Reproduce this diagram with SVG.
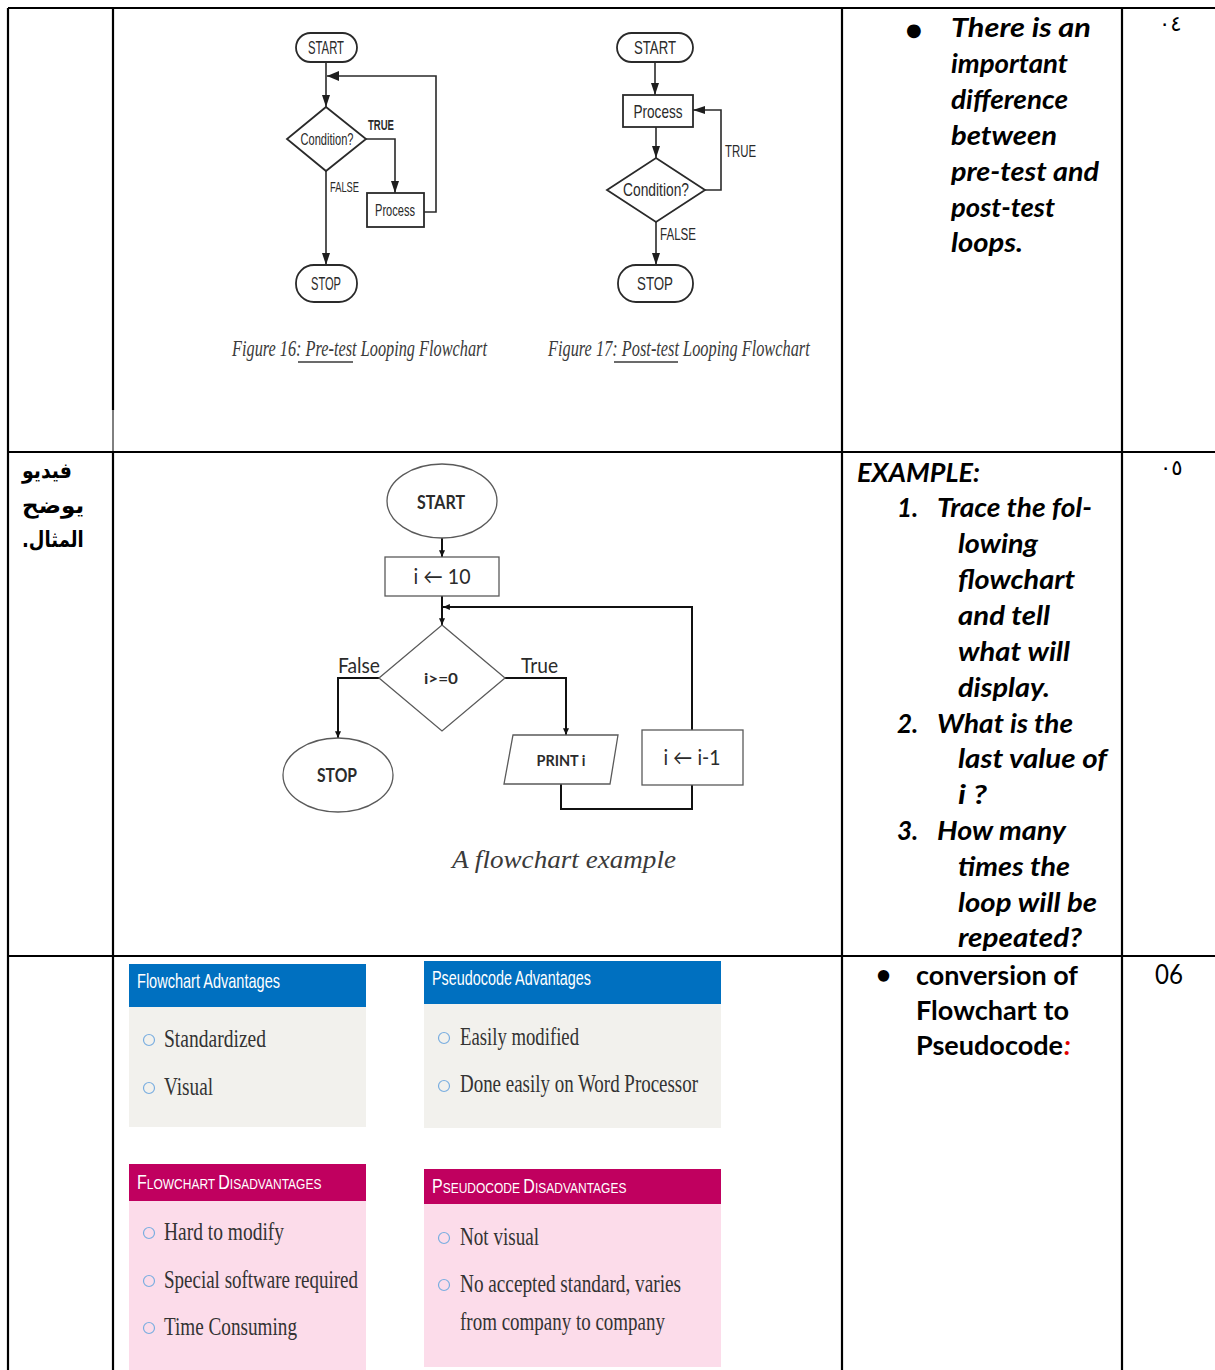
<svg xmlns="http://www.w3.org/2000/svg" width="1215" height="1370" viewBox="0 0 1215 1370">
<defs>
<style>
.grid{stroke:#000;stroke-width:2.2;fill:none}
.fc{fill:#fff;stroke:#2a2a2a;stroke-width:1.8}
.fcl{fill:none;stroke:#2a2a2a;stroke-width:1.6}
.nar{font-family:"Liberation Sans Narrow","Liberation Sans",sans-serif;fill:#2a2a2a}
.cap{font-family:"Liberation Serif",serif;font-style:italic;fill:#3a3a3a}
.ex{fill:#fff;stroke:#5a5a5a;stroke-width:1.3}
.exl{fill:none;stroke:#111;stroke-width:2}
.cal{font-family:Lato,"Open Sans",sans-serif;fill:#2b2b2b}
.note{font-family:Lato,"Open Sans",sans-serif;font-weight:bold;fill:#000}
.hdr{font-family:"Liberation Sans Narrow","Liberation Sans",sans-serif;fill:#fff}
.itm{font-family:"Liberation Serif",serif;fill:#333}
.dot{fill:none;stroke:#7aaee0;stroke-width:1.2}
.ar{font-family:"DejaVu Sans","Noto Sans",sans-serif;font-weight:bold;font-size:22px;fill:#000}
</style>
<marker id="ah" viewBox="0 0 12 8" refX="12" refY="4" markerWidth="12" markerHeight="8" markerUnits="userSpaceOnUse" orient="auto">
<path d="M0,0 L12,4 L0,8 z" fill="#1e1e1e"/>
</marker>
<marker id="as" viewBox="0 0 8 7" refX="8" refY="3.5" markerWidth="7" markerHeight="6" markerUnits="userSpaceOnUse" orient="auto">
<path d="M0,0 L8,3.5 L0,7 z" fill="#111"/>
</marker>
</defs>
<rect width="1215" height="1370" fill="#fff"/>

<!-- table rules -->
<g id="table">
<path class="grid" d="M8,8 H1215 M8,452 H1215 M8,956 H1215 M8,8 V1370 M113,8 V410 M113,452 V1370 M842,8 V1370 M1122,8 V1370"/>
<path d="M113,410 V452" stroke="#000" stroke-width="1"/>
</g>

<!-- connectors -->
<g id="connectors">
<!-- pre-test loop -->
<path class="fcl" d="M326,62 V107" marker-end="url(#ah)"/>
<path class="fcl" d="M424,212 H436 V76 H327"/>
<path d="M339,71 L327,76 L339,81 z" fill="#1e1e1e"/>
<path class="fcl" d="M366,139 H395 V193" stroke-width="2.2" marker-end="url(#ah)"/>
<path class="fcl" d="M326,171 V265" marker-end="url(#ah)"/>
<!-- post-test loop -->
<path class="fcl" d="M655,62 V95" marker-end="url(#ah)"/>
<path class="fcl" d="M656,127 V158" marker-end="url(#ah)"/>
<path class="fcl" d="M705,190 H721 V110 H693" marker-end="url(#ah)"/>
<path class="fcl" d="M656,222 V265" marker-end="url(#ah)"/>
<!-- example flowchart -->
<path class="exl" d="M442,538 V557" marker-end="url(#as)"/>
<path class="exl" d="M442,596 V625" marker-end="url(#as)"/>
<path class="exl" d="M692,730 V607 H443" marker-end="url(#as)"/>
<path class="exl" d="M379,678 H338 V738" marker-end="url(#as)"/>
<path class="exl" d="M505,678 H566 V735" marker-end="url(#as)"/>
<path class="exl" d="M561,784 V809 H692 V785"/>
</g>

<!-- pre-test flowchart -->
<g id="pre-start"><rect class="fc" x="296" y="33" width="61" height="29" rx="14.5"/><text class="nar" x="326" y="54" font-size="18" text-anchor="middle" textLength="36" lengthAdjust="spacingAndGlyphs">START</text></g>
<g id="pre-cond"><polygon class="fc" points="326,107 366,139 326,171 287,139"/><text class="nar" x="327" y="145" font-size="17" text-anchor="middle" textLength="53" lengthAdjust="spacingAndGlyphs">Condition?</text></g>
<g id="pre-process"><rect class="fc" x="367" y="193" width="57" height="34" stroke-width="2"/><text class="nar" x="395" y="216" font-size="17" text-anchor="middle" textLength="40" lengthAdjust="spacingAndGlyphs">Process</text></g>
<g id="pre-stop"><rect class="fc" x="296" y="265" width="61" height="37" rx="18"/><text class="nar" x="326" y="290" font-size="18" text-anchor="middle" textLength="30" lengthAdjust="spacingAndGlyphs">STOP</text></g>
<text class="nar" x="368" y="130" font-size="14" font-weight="bold" textLength="26" lengthAdjust="spacingAndGlyphs">TRUE</text>
<text class="nar" x="330" y="192" font-size="14" textLength="29" lengthAdjust="spacingAndGlyphs">FALSE</text>
<text class="cap" font-size="24" transform="translate(232,356) scale(0.75,1)" textLength="340" lengthAdjust="spacingAndGlyphs">Figure 16: Pre-test Looping Flowchart</text>
<path d="M298,362 H353" stroke="#3a3a3a" stroke-width="1.4"/>

<!-- post-test flowchart -->
<g id="post-start"><rect class="fc" x="617" y="33" width="76" height="29" rx="14.5"/><text class="nar" x="655" y="54" font-size="19" text-anchor="middle" textLength="42" lengthAdjust="spacingAndGlyphs">START</text></g>
<g id="post-process"><rect class="fc" x="623" y="95" width="70" height="32"/><text class="nar" x="658" y="118" font-size="19" text-anchor="middle" textLength="49" lengthAdjust="spacingAndGlyphs">Process</text></g>
<g id="post-cond"><polygon class="fc" points="656,158 705,190 656,222 607,190"/><text class="nar" x="656" y="196" font-size="18" text-anchor="middle" textLength="66" lengthAdjust="spacingAndGlyphs">Condition?</text></g>
<g id="post-stop"><rect class="fc" x="618" y="265" width="75" height="37" rx="18"/><text class="nar" x="655" y="290" font-size="19" text-anchor="middle" textLength="36" lengthAdjust="spacingAndGlyphs">STOP</text></g>
<text class="nar" x="725" y="157" font-size="16" textLength="31" lengthAdjust="spacingAndGlyphs">TRUE</text>
<text class="nar" x="660" y="240" font-size="16" textLength="36" lengthAdjust="spacingAndGlyphs">FALSE</text>
<text class="cap" font-size="24" transform="translate(548,356) scale(0.75,1)" textLength="349" lengthAdjust="spacingAndGlyphs">Figure 17: Post-test Looping Flowchart</text>
<path d="M614,362 H678" stroke="#3a3a3a" stroke-width="1.4"/>

<!-- example flowchart -->
<g id="ex-start"><ellipse class="ex" cx="442" cy="501" rx="55" ry="37"/><text class="cal" x="441" y="509" font-size="19" font-weight="bold" text-anchor="middle" textLength="48" lengthAdjust="spacingAndGlyphs">START</text></g>
<g id="ex-init"><rect class="ex" x="385" y="557" width="114" height="39"/><text class="cal" x="442" y="584" font-size="21" text-anchor="middle" textLength="57" lengthAdjust="spacingAndGlyphs">i ← 10</text></g>
<g id="ex-cond"><polygon class="ex" points="442,625 505,678 442,731 379,678"/><text class="cal" x="441" y="684" font-size="16" font-weight="bold" text-anchor="middle" textLength="34" lengthAdjust="spacingAndGlyphs">i&gt;=0</text></g>
<g id="ex-stop"><ellipse class="ex" cx="338" cy="775" rx="55" ry="37"/><text class="cal" x="337" y="782" font-size="19" font-weight="bold" text-anchor="middle" textLength="40" lengthAdjust="spacingAndGlyphs">STOP</text></g>
<g id="ex-print"><polygon class="ex" points="513,735 618,735 610,784 504,784"/><text class="cal" x="561" y="766" font-size="16" font-weight="bold" text-anchor="middle" textLength="49" lengthAdjust="spacingAndGlyphs">PRINT i</text></g>
<g id="ex-dec"><rect class="ex" x="642" y="730" width="101" height="55"/><text class="cal" x="692" y="765" font-size="21" text-anchor="middle" textLength="57" lengthAdjust="spacingAndGlyphs">i ← i-1</text></g>
<text class="cal" x="338" y="673" font-size="21" textLength="42" lengthAdjust="spacingAndGlyphs">False</text>
<text class="cal" x="521" y="673" font-size="21" textLength="37" lengthAdjust="spacingAndGlyphs">True</text>
<text class="cap" x="452" y="868" font-size="26" textLength="224" lengthAdjust="spacingAndGlyphs">A flowchart example</text>

<!-- right-hand notes -->
<text x="906" y="36" font-family="'DejaVu Sans',sans-serif" font-size="18" fill="#000">●</text>
<g class="note" font-style="italic" font-size="26">
<text x="951" y="37" textLength="140" lengthAdjust="spacingAndGlyphs">There is an</text>
<text x="951" y="73" textLength="117" lengthAdjust="spacingAndGlyphs">important</text>
<text x="951" y="109" textLength="117" lengthAdjust="spacingAndGlyphs">difference</text>
<text x="951" y="145" textLength="106" lengthAdjust="spacingAndGlyphs">between</text>
<text x="951" y="181" textLength="148" lengthAdjust="spacingAndGlyphs">pre-test and</text>
<text x="951" y="217" textLength="104" lengthAdjust="spacingAndGlyphs">post-test</text>
<text x="951" y="252" textLength="72" lengthAdjust="spacingAndGlyphs">loops.</text>

<text x="857" y="482" textLength="123" lengthAdjust="spacingAndGlyphs">EXAMPLE:</text>
<text x="897" y="517">1.</text><text x="937" y="517" textLength="155" lengthAdjust="spacingAndGlyphs">Trace the fol-</text>
<text x="958" y="553" textLength="80" lengthAdjust="spacingAndGlyphs">lowing</text>
<text x="958" y="589" textLength="117" lengthAdjust="spacingAndGlyphs">flowchart</text>
<text x="958" y="625" textLength="92" lengthAdjust="spacingAndGlyphs">and tell</text>
<text x="958" y="661" textLength="112" lengthAdjust="spacingAndGlyphs">what will</text>
<text x="958" y="697" textLength="92" lengthAdjust="spacingAndGlyphs">display.</text>
<text x="897" y="733">2.</text><text x="937" y="733" textLength="136" lengthAdjust="spacingAndGlyphs">What is the</text>
<text x="958" y="768" textLength="149" lengthAdjust="spacingAndGlyphs">last value of</text>
<text x="958" y="804" textLength="29" lengthAdjust="spacingAndGlyphs">i ?</text>
<text x="897" y="840">3.</text><text x="937" y="840" textLength="129" lengthAdjust="spacingAndGlyphs">How many</text>
<text x="958" y="876" textLength="112" lengthAdjust="spacingAndGlyphs">times the</text>
<text x="958" y="912" textLength="139" lengthAdjust="spacingAndGlyphs">loop will be</text>
<text x="958" y="947" textLength="124" lengthAdjust="spacingAndGlyphs">repeated?</text>
</g>
<g class="note" font-size="26">
<text x="876" y="984">•</text>
<text x="916" y="985" textLength="162" lengthAdjust="spacingAndGlyphs">conversion of</text>
<text x="916" y="1020" textLength="153" lengthAdjust="spacingAndGlyphs">Flowchart to</text>
<text x="916" y="1055" textLength="147" lengthAdjust="spacingAndGlyphs">Pseudocode</text>
<text x="1064" y="1055" fill="#e00000" font-style="italic">:</text>
</g>

<!-- row numbers -->
<text x="1159" y="31" font-family="'DejaVu Sans',sans-serif" font-size="21" fill="#000">٠٤</text>
<text x="1160" y="475" font-family="'DejaVu Sans',sans-serif" font-size="21" fill="#000">٠٥</text>
<text x="1155" y="984" font-family="Lato,'Open Sans',sans-serif" font-size="26" fill="#000" textLength="28" lengthAdjust="spacingAndGlyphs">06</text>

<!-- left column note -->
<text class="ar" direction="rtl" text-anchor="end" transform="translate(22,478) scale(0.86,1)">فيديو</text>
<text class="ar" direction="rtl" text-anchor="end" transform="translate(22,513) scale(1.05,1)">يوضح</text>
<text class="ar" direction="rtl" text-anchor="end" transform="translate(22,547) scale(0.82,1)">المثال.</text>

<!-- comparison panels -->
<g id="fc-adv">
<rect x="129" y="1007" width="237" height="120" fill="#f2f1ed"/>
<rect x="129" y="964" width="237" height="43" fill="#0070c0"/>
<text class="hdr" x="137" y="988" font-size="21" textLength="143" lengthAdjust="spacingAndGlyphs">Flowchart Advantages</text>
<circle class="dot" cx="149" cy="1040" r="5.5"/><text class="itm" x="164" y="1047" font-size="25" textLength="102" lengthAdjust="spacingAndGlyphs">Standardized</text>
<circle class="dot" cx="149" cy="1088" r="5.5"/><text class="itm" x="164" y="1095" font-size="25" textLength="49" lengthAdjust="spacingAndGlyphs">Visual</text>
</g>
<g id="pc-adv">
<rect x="424" y="1004" width="297" height="124" fill="#f2f1ed"/>
<rect x="424" y="961" width="297" height="43" fill="#0070c0"/>
<text class="hdr" x="432" y="985" font-size="21" textLength="159" lengthAdjust="spacingAndGlyphs">Pseudocode Advantages</text>
<circle class="dot" cx="444" cy="1038" r="5.5"/><text class="itm" x="460" y="1045" font-size="25" textLength="119" lengthAdjust="spacingAndGlyphs">Easily modified</text>
<circle class="dot" cx="444" cy="1086" r="5.5"/><text class="itm" x="460" y="1092" font-size="25" textLength="238" lengthAdjust="spacingAndGlyphs">Done easily on Word Processor</text>
</g>
<g id="fc-dis">
<rect x="129" y="1201" width="237" height="169" fill="#fcdcea"/>
<rect x="129" y="1164" width="237" height="37" fill="#c0005f"/>
<text class="hdr" font-size="20" transform="translate(137,1189) scale(0.8,1)">F<tspan font-size="15">LOWCHART </tspan>D<tspan font-size="15">ISADVANTAGES</tspan></text>
<circle class="dot" cx="149" cy="1233" r="5.5"/><text class="itm" x="164" y="1240" font-size="25" textLength="120" lengthAdjust="spacingAndGlyphs">Hard to modify</text>
<circle class="dot" cx="149" cy="1281" r="5.5"/><text class="itm" x="164" y="1288" font-size="25" textLength="194" lengthAdjust="spacingAndGlyphs">Special software required</text>
<circle class="dot" cx="149" cy="1328" r="5.5"/><text class="itm" x="164" y="1335" font-size="25" textLength="133" lengthAdjust="spacingAndGlyphs">Time Consuming</text>
</g>
<g id="pc-dis">
<rect x="424" y="1204" width="297" height="163" fill="#fcdcea"/>
<rect x="424" y="1169" width="297" height="35" fill="#c0005f"/>
<text class="hdr" font-size="20" transform="translate(432,1193) scale(0.8,1)">P<tspan font-size="15">SEUDOCODE </tspan>D<tspan font-size="15">ISADVANTAGES</tspan></text>
<circle class="dot" cx="444" cy="1238" r="5.5"/><text class="itm" x="460" y="1245" font-size="25" textLength="79" lengthAdjust="spacingAndGlyphs">Not visual</text>
<circle class="dot" cx="444" cy="1285" r="5.5"/><text class="itm" x="460" y="1292" font-size="25" textLength="221" lengthAdjust="spacingAndGlyphs">No accepted standard, varies</text>
<text class="itm" x="460" y="1330" font-size="25" textLength="205" lengthAdjust="spacingAndGlyphs">from company to company</text>
</g>
</svg>
